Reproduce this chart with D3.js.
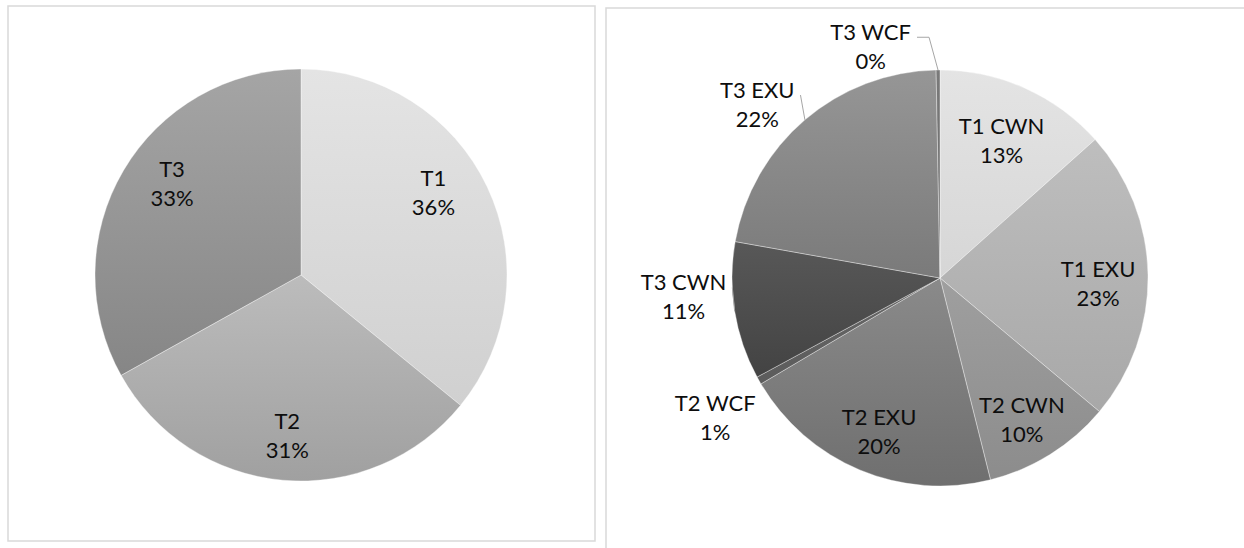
<!DOCTYPE html>
<html>
<head>
<meta charset="utf-8">
<script src="https://cdnjs.cloudflare.com/ajax/libs/d3/7.8.5/d3.min.js"></script>
<style>
  html, body { margin: 0; padding: 0; background: #fff; overflow: hidden; }
  svg text { font-family: Lato, "Open Sans", sans-serif; font-size: 22px; fill: #0d0d0d; }
</style>
</head>
<body>
<svg id="chart" width="1244" height="548"></svg>
<script>
// overall shares per treatment
const overallCategories = ["T1", "T2", "T3"];
const overallShares = [35.9, 31.0, 33.1];

// shares split per treatment and type
const detailCategories = ["T1 CWN", "T1 EXU", "T2 CWN", "T2 EXU", "T2 WCF", "T3 CWN", "T3 EXU", "T3 WCF"];
const detailShares = [13.4, 22.7, 10.0, 20.4, 0.6, 10.7, 21.9, 0.3];

// styling (top / bottom of each slice's gradient)
const overallColors = [["#e4e4e4", "#d0d0d0"], ["#bcbcbc", "#a0a0a0"], ["#a5a5a5", "#868686"]];
const detailColors = [
	["#e4e4e4", "#d6d6d6"], ["#bebebe", "#a8a8a8"], ["#9f9f9f", "#8c8c8c"], ["#8a8a8a", "#6f6f6f"],
	["#676767", "#5c5c5c"], ["#585858", "#434343"], ["#969696", "#7a7a7a"], ["#7a7a7a", "#6a6a6a"]
];

// label placement tweaks (Excel "best fit" is not purely radial)
const labelNudge = {
	"T1": [-9, -15], "T2": [0, 5], "T3": [6, -12],
	"T1 CWN": [-3, 7], "T1 EXU": [0, 8], "T2 CWN": [-2, 8], "T2 EXU": [0, 8],
	"T2 WCF": [-4, 15], "T3 CWN": [-6, -21], "T3 EXU": [-18, 20], "T3 WCF": [-67, 23]
};
const outsideLabels = ["T2 WCF", "T3 CWN", "T3 EXU", "T3 WCF"];
const leaderLabels = { "T3 CWN": "straight", "T3 EXU": "straight", "T3 WCF": "elbow" };

const svg = d3.select("#chart");
const defs = svg.append("defs");

// panel frames
svg.append("rect")
	.attr("x", 8).attr("y", 6).attr("width", 587).attr("height", 535)
	.attr("fill", "none").attr("stroke", "#d9d9d9").attr("stroke-width", 1.5);
svg.append("rect")
	.attr("x", 606).attr("y", 8).attr("width", 700).attr("height", 600)
	.attr("fill", "none").attr("stroke", "#d9d9d9").attr("stroke-width", 1.5);

const lineGap = 29;

const drawPie = (id, categories, shares, colors, cx, cy, radius) => {
	const total = d3.sum(shares);
	const data = categories.map((name, i) => ({ name, value: shares[i], colors: colors[i] }));
	const arcs = d3.pie().sort(null).value(d => d.value)(data);

	const g = svg.append("g").attr("transform", `translate(${cx},${cy})`);
	const arc = d3.arc().innerRadius(0).outerRadius(radius);
	const inLabel = d3.arc().innerRadius(radius * 0.76).outerRadius(radius * 0.76);
	const outLabel = d3.arc().innerRadius(radius * 1.22).outerRadius(radius * 1.22);
	const edge = d3.arc().innerRadius(radius).outerRadius(radius);

	arcs.forEach((a, i) => {
		const grad = defs.append("linearGradient")
			.attr("id", `${id}-g${i}`)
			.attr("x1", 0).attr("y1", 0).attr("x2", 0).attr("y2", 1);
		grad.append("stop").attr("offset", 0).attr("stop-color", a.data.colors[0]);
		grad.append("stop").attr("offset", 1).attr("stop-color", a.data.colors[1]);
	});

	g.selectAll("path.slice")
		.data(arcs)
		.join("path")
		.attr("class", "slice")
		.attr("d", arc)
		.attr("fill", (d, i) => `url(#${id}-g${i})`)
		.attr("stroke", "#ffffff")
		.attr("stroke-opacity", 0.6)
		.attr("stroke-width", 0.6);

	arcs.forEach(a => {
		const name = a.data.name;
		const isOut = outsideLabels.includes(name);
		const [bx, by] = (isOut ? outLabel : inLabel).centroid(a);
		const [nx, ny] = labelNudge[name] || [0, 0];
		const x = bx + nx;
		const yc = by + ny;
		const b1 = yc - 7;

		const t = g.append("text").attr("text-anchor", "middle");
		t.append("tspan").attr("x", x).attr("y", b1).text(name);
		t.append("tspan").attr("x", x).attr("y", b1 + lineGap)
			.text(`${Math.round((a.data.value / total) * 100)}%`);

		const kind = leaderLabels[name];
		if (kind) {
			const w = t.select("tspan").node().getComputedTextLength();
			const sx = x + w / 2 + 6;
			const sy = b1 - 3;
			const [ex, ey] = edge.centroid(a);
			const pts = kind === "elbow"
				? [[sx, sy], [ex - 9, sy], [ex, ey]]
				: [[sx, sy], [ex, ey]];
			g.append("path")
				.attr("d", d3.line()(pts))
				.attr("fill", "none")
				.attr("stroke", "#a6a6a6")
				.attr("stroke-width", 1);
		}
	});
};

drawPie("overall", overallCategories, overallShares, overallColors, 301, 275, 206);
drawPie("detail", detailCategories, detailShares, detailColors, 940, 278, 208);
</script>
</body>
</html>
